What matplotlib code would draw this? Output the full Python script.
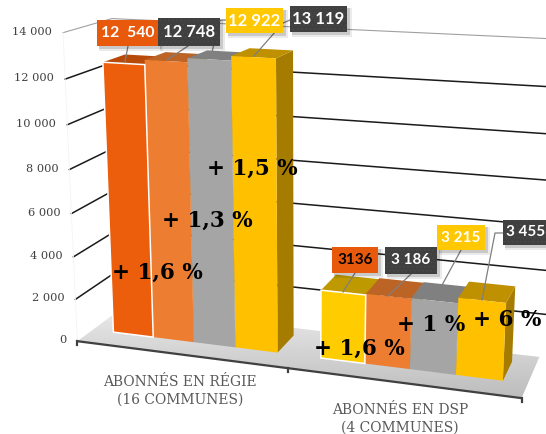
import numpy as np
import matplotlib
matplotlib.use('Agg')
import matplotlib.pyplot as plt
from matplotlib.patches import Polygon, Rectangle

groups = ['ABONNÉS EN RÉGIE\n(16 COMMUNES)', 'ABONNÉS EN DSP\n(4 COMMUNES)']
values = [[12540, 12748, 12922, 13119], [3136, 3186, 3215, 3455]]
value_labels = [['12  540', '12 748', '12 922', '13 119'], ['3136', '3 186', '3 215', '3 455']]
pct_labels = [['+ 1,6 %', '+ 1,3 %', '+ 1,5 %'], ['+ 1,6 %', '+ 1 %', '+ 6 %']]
ticks = [0, 2000, 4000, 6000, 8000, 10000, 12000, 14000]
tick_labels = ['0', '2 000', '4 000', '6 000', '8 000', '10 000', '12 000', '14 000']

front_cols = [['#EC5D0C', '#ED7D31', '#A5A5A5', '#FFC000'], ['#FFCC00', '#ED7D31', '#A5A5A5', '#FFC000']]
top_cols = [['#B84A09', '#BC6326', '#808080', '#BF9000'], ['#BF9900', '#BC6326', '#808080', '#BF9000']]
side_col = '#A67C00'

# camera matrix of the 3d look: (bar position, value in thousands, depth) -> pixels
P = np.array([[38.29808, -1.27226, 24.96594, 113.39485],
              [1.62812, -21.78588, -5.53973, 332.15295],
              [-0.009901, -0.004188, 0.032512, 1.0]])

def proj(u, v, d):
    h = P @ np.array([u, v / 1000, d, 1.0])
    return h[0] / h[2], h[1] / h[2]

U0, U1 = -0.52, 9.52
D0, D1 = -0.7, 1.42

plt.rcParams['hatch.linewidth'] = 0.6
fig = plt.figure(figsize=(5.46, 4.34), dpi=100)
ax = fig.add_axes([0, 0, 1, 1])
ax.set_xlim(0, 546)
ax.set_ylim(434, 0)
ax.axis('off')

# floor
floor_pts = [proj(U0, 0, D0), proj(U0, 0, D1), proj(U1, 0, D1), proj(U1, 0, D0)]
floor = Polygon(floor_pts, closed=True, fc='none', ec='none')
ax.add_patch(floor)
grad = np.linspace(0.90, 0.73, 100).reshape(-1, 1)
im = ax.imshow(grad, extent=(0, 546, 402, 316), cmap='gray', vmin=0, vmax=1, aspect='auto', zorder=1)
im.set_clip_path(floor)
ax.set_xlim(0, 546)
ax.set_ylim(434, 0)

# walls grid
for t in ticks[1:]:
    col, lw = ('#A0A0A0', 0.8) if t == 14000 else ('#1A1A1A', 1.1)
    a, b = proj(U0, t, D0), proj(U0, t, D1)
    c = proj(14, t, D1)
    ax.plot([a[0], b[0], c[0]], [a[1], b[1], c[1]], color=col, lw=lw, zorder=2)
a, b = proj(U0, 0, D0), proj(U0, 14000, D0)
ax.plot([a[0], b[0]], [a[1], b[1]], color='#F4F4F4', lw=0.6, zorder=2)

# axis line and ticks
a, b = proj(U0, 0, D0), proj(U1, 0, D0)
ax.plot([a[0], b[0]], [a[1], b[1]], color='#404040', lw=1.6, zorder=3)
for u in [U0, 4.5, U1]:
    x, y = proj(u, 0, D0)
    ax.plot([x, x], [y, y + 4], color='#404040', lw=1.6, zorder=3)

for t, lab in zip(ticks, tick_labels):
    x, y = proj(U0, t, D0)
    ax.text(x - 11, y - 1, lab, ha='right', va='center', family='DejaVu Serif', fontsize=8.2, color='#404040', zorder=4)

# bars
z = 5
for g in range(2):
    for i, val in enumerate(values[g]):
        u = g * 5 + i
        f = [proj(u, 0, 0), proj(u, val, 0), proj(u + 1, val, 0), proj(u + 1, 0, 0)]
        t = [proj(u, val, 0), proj(u, val, 1), proj(u + 1, val, 1), proj(u + 1, val, 0)]
        s = [proj(u + 1, 0, 0), proj(u + 1, val, 0), proj(u + 1, val, 1), proj(u + 1, 0, 1)]
        ax.add_patch(Polygon(s, closed=True, fc=side_col, ec='none', zorder=z))
        ax.add_patch(Polygon(t, closed=True, fc=top_cols[g][i], ec='none', zorder=z))
        z += 2
    # first bar of each group has a white outline, on top of its neighbour
    for i in [3, 2, 1, 0]:
        u = g * 5 + i
        val = values[g][i]
        f = [proj(u, 0, 0), proj(u, val, 0), proj(u + 1, val, 0), proj(u + 1, 0, 0)]
        edge = dict(ec='white', lw=1.1) if i == 0 else dict(ec='none')
        ax.add_patch(Polygon(f, closed=True, fc=front_cols[g][i], zorder=z, **edge))
        z += 1

# value labels: boxes
boxes = [[(97, 20, 61, 26), (158, 18, 62, 28), (226, 8, 57, 25), (290, 6, 57, 26)],
         [(332, 247, 46, 26), (385, 247, 52, 27), (437, 225, 48, 25), (503, 220, 46, 25)]]
leaders = [[[(128, 46), (125, 62)], [(188, 46), (167, 60)], [(226, 20), (220, 20), (212, 52)], [(290, 20), (283, 23), (254, 56)]],
           [[(355, 273), (343, 292)], [(411, 274), (388, 296)], [(461, 250), (441, 287)], [(503, 233), (495, 233), (482, 300)]]]
box_cols = [['#E8590C', '#404040', '#FFC800', '#404040'], ['#E8590C', '#404040', '#FFC800', '#404040']]
for g in range(2):
    for i in range(4):
        x, y, w, h = boxes[g][i]
        lx, ly = zip(*leaders[g][i])
        ax.plot(lx, ly, color='#7F7F7F', lw=0.9, zorder=40)
        ax.add_patch(Rectangle((x + 1.5, y + 1.5), w + 3, h + 3, fc='#000000', alpha=0.08, ec='none', zorder=41))
        ax.add_patch(Rectangle((x + 1.5, y + 1.5), w + 1.5, h + 1.5, fc='#000000', alpha=0.14, ec='none', zorder=41))
        hatch = '....' if box_cols[g][i] == '#404040' else None
        ax.add_patch(Rectangle((x, y), w, h, fc=box_cols[g][i], ec='#4A4A4A' if hatch else 'none', lw=0, hatch=hatch, zorder=42))
        col = 'black' if value_labels[g][i] == '3136' else 'white'
        size = 11.3 if i == 0 and g == 0 else (12 if g == 0 else 11)
        ax.text(x + w / 2, y + h / 2, value_labels[g][i], ha='center', va='center', color=col,
                family='Lato', weight='bold', fontsize=size, zorder=43, clip_on=True)

# percent labels
pct_pos = [[(157, 273), (207, 221), (252, 169)], [(359, 349), (431, 325), (507, 320)]]
for g in range(2):
    for lab, (x, y) in zip(pct_labels[g], pct_pos[g]):
        ax.text(x, y, lab, ha='center', va='center', family='DejaVu Serif', weight='bold',
                fontsize=15.5, color='black', zorder=50)

# categories
for lab, (x, y) in zip(groups, [(180, 390.5), (400, 418.5)]):
    ax.text(x, y, lab, ha='center', va='center', family='DejaVu Serif', fontsize=10,
            color='#595959', linespacing=1.35, zorder=4)

fig.savefig('out.png', dpi=100)
